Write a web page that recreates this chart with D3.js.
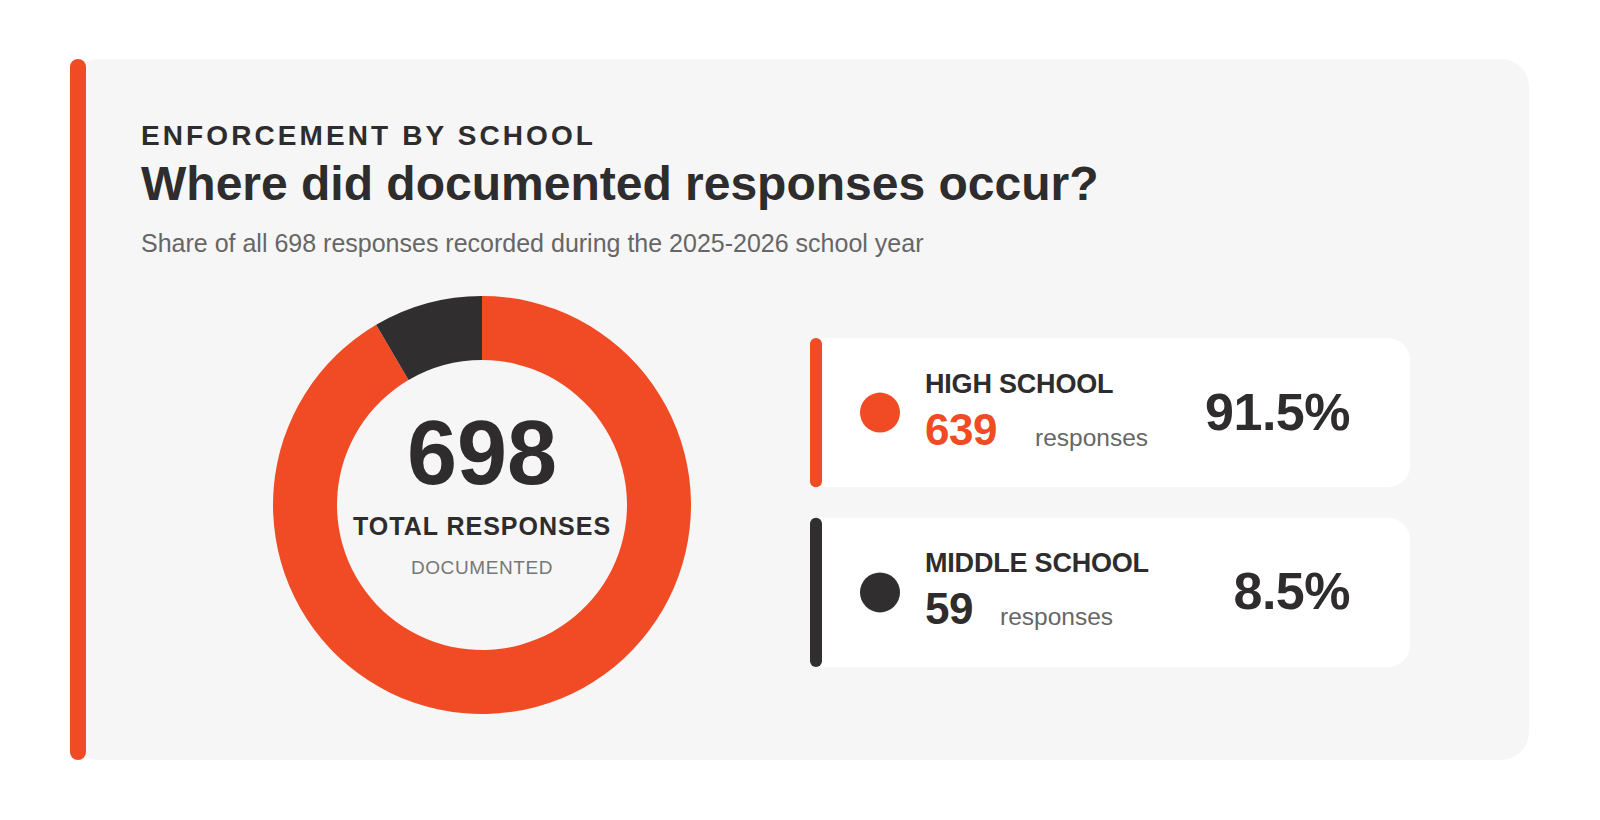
<!DOCTYPE html>
<html>
<head>
<meta charset="utf-8">
<script src="https://cdn.jsdelivr.net/npm/d3@7"></script>
<style>
  html, body { margin: 0; padding: 0; background: #ffffff; }
  svg { display: block; }
  text { font-family: "Liberation Sans", Arial, Helvetica, sans-serif; }
</style>
</head>
<body>
<svg id="chart" width="1600" height="820"></svg>
<script>
// ---- Data ----
const eyebrow = "ENFORCEMENT BY SCHOOL";
const title = "Where did documented responses occur?";
const subtitle = "Share of all 698 responses recorded during the 2025-2026 school year";
const categories = ["HIGH SCHOOL", "MIDDLE SCHOOL"];
const counts = [639, 59];
const shareLabels = ["91.5%", "8.5%"];
const seriesColors = ["#F04B24", "#302E2F"];
const centerLabels = ["TOTAL RESPONSES", "DOCUMENTED"];
const unitLabel = "responses";

const ORANGE = "#F04B24", DARK = "#2E2C2D", GRAY = "#666666";
const total = d3.sum(counts);

const svg = d3.select("#chart");

// Panel
svg.append("rect").attr("x", 70).attr("y", 59).attr("width", 1459).attr("height", 701)
  .attr("rx", 28).attr("fill", "#F6F6F6");
svg.append("rect").attr("x", 70).attr("y", 59).attr("width", 16).attr("height", 701)
  .attr("rx", 8).attr("fill", ORANGE);

// Headings
svg.append("text").attr("x", 141).attr("y", 145).text(eyebrow)
  .attr("font-size", 28).attr("font-weight", 700).attr("letter-spacing", 3.1).attr("fill", DARK);
svg.append("text").attr("x", 141).attr("y", 200).text(title)
  .attr("font-size", 48).attr("font-weight", 700).attr("fill", DARK);
svg.append("text").attr("x", 141).attr("y", 252).text(subtitle)
  .attr("font-size", 25).attr("fill", GRAY);

// Donut
const cx = 482, cy = 505;
const pie = d3.pie().sort(null).value(d => d);
const arc = d3.arc().innerRadius(145).outerRadius(209);
const g = svg.append("g").attr("transform", `translate(${cx},${cy})`);
g.selectAll("path").data(pie(counts)).join("path")
  .attr("d", arc).attr("fill", (d, i) => seriesColors[i]);

g.append("text").attr("text-anchor", "middle").attr("y", -21).text(total)
  .attr("font-size", 90).attr("font-weight", 700).attr("fill", DARK);
g.append("text").attr("text-anchor", "middle").attr("y", 30).text(centerLabels[0])
  .attr("font-size", 25).attr("font-weight", 700).attr("letter-spacing", 1).attr("fill", DARK);
g.append("text").attr("text-anchor", "middle").attr("y", 69).text(centerLabels[1])
  .attr("font-size", 19).attr("letter-spacing", 0.6).attr("fill", "#777777");

// Cards
const cardY = d3.scaleBand().domain(categories).range([338, 667]).paddingInner(0.17);
const cardX = 810, cardW = 600, cardR = 22;
const cards = svg.selectAll("g.card").data(categories).join("g").attr("class", "card")
  .attr("transform", d => `translate(${cardX},${cardY(d)})`);
const h = cardY.bandwidth();

cards.append("path").attr("fill", "#ffffff")
  .attr("d", `M6,0 H${cardW - cardR} A${cardR},${cardR} 0 0 1 ${cardW},${cardR} V${h - cardR} A${cardR},${cardR} 0 0 1 ${cardW - cardR},${h} H6 Z`);
cards.append("rect").attr("x", 0).attr("y", 0).attr("width", 12).attr("height", h)
  .attr("rx", 6).attr("fill", (d, i) => seriesColors[i]);
cards.append("circle").attr("cx", 70).attr("cy", h / 2).attr("r", 20)
  .attr("fill", (d, i) => seriesColors[i]);
cards.append("text").attr("x", 115).attr("y", h / 2 - 20).text(d => d)
  .attr("font-size", 27).attr("font-weight", 700).attr("letter-spacing", -0.2).attr("fill", DARK);
cards.append("text").attr("x", 115).attr("y", h / 2 + 32).text((d, i) => counts[i])
  .attr("font-size", 44).attr("font-weight", 700).attr("letter-spacing", -0.5)
  .attr("fill", (d, i) => i === 0 ? ORANGE : DARK);
cards.append("text").attr("x", (d, i) => 115 + String(counts[i]).length * 35 + 5)
  .attr("y", h / 2 + 33).text(unitLabel)
  .attr("font-size", 24.5).attr("fill", GRAY);
cards.append("text").attr("x", 540).attr("y", h / 2 + 17).attr("text-anchor", "end")
  .text((d, i) => shareLabels[i])
  .attr("font-size", 52).attr("font-weight", 700).attr("letter-spacing", -0.5).attr("fill", DARK);
</script>
</body>
</html>
